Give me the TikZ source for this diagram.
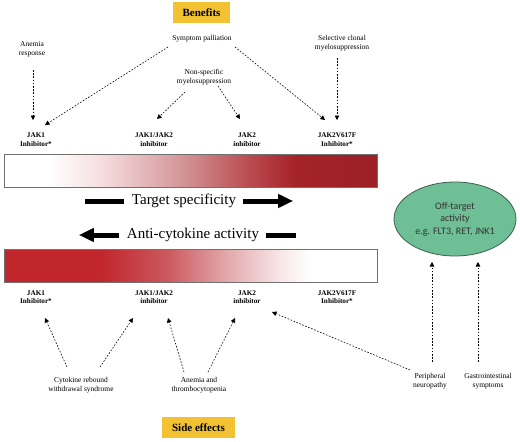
\documentclass[tikz,border=0pt]{standalone}
\usepackage{fontspec}
\setmainfont{Liberation Serif}
\newfontfamily\ellfont{Carlito}
\usetikzlibrary{arrows.meta,shapes.geometric,calc}
\definecolor{gold}{HTML}{F2C232}
\definecolor{ellgreen}{HTML}{6EBE96}
\definecolor{ellborder}{HTML}{3E5F4E}
\definecolor{barborder}{HTML}{707070}
\definecolor{tA}{HTML}{F6DEE0}
\definecolor{tB}{HTML}{D39497}
\definecolor{tC}{HTML}{B94A4F}
\definecolor{tD}{HTML}{A52329}
\definecolor{tE}{HTML}{9C2026}
\definecolor{bA}{HTML}{C1262C}
\definecolor{bB}{HTML}{CB5A5F}
\definecolor{bC}{HTML}{E3AAAD}
\definecolor{bD}{HTML}{F7E6E7}
\pgfdeclarehorizontalshading{topgrad}{100bp}{color(0bp)=(white); color(31bp)=(white); color(38bp)=(tA); color(49bp)=(tB); color(58bp)=(tC); color(64bp)=(tD); color(75bp)=(tE); color(100bp)=(tE)}
\pgfdeclarehorizontalshading{botgrad}{100bp}{color(0bp)=(bA); color(38bp)=(bA); color(47bp)=(bB); color(55bp)=(bC); color(62bp)=(bD); color(66bp)=(white); color(100bp)=(white)}
\tikzset{
  small/.style={font=\fontsize{7.5}{9}\selectfont, align=center, inner sep=0pt},
  jak/.style={font=\fontsize{7.2}{8.6}\selectfont\bfseries, align=center, inner sep=0pt},
  darr/.style={dash pattern=on 1.6pt off 1.6pt, line width=0.6pt, -{Triangle[length=4.5pt,width=4.5pt]}},
  head/.style={fill=gold, font=\fontsize{11}{13}\selectfont\bfseries, inner sep=0pt},
  big/.style={font=\fontsize{15}{17}\selectfont, inner sep=0pt},
  thick bar/.style={line width=5pt},
  bar/.style={draw=barborder, line width=0.8pt, minimum width=373pt, minimum height=33pt, inner sep=0pt}
}
\begin{document}
\begin{tikzpicture}[x=1pt,y=-1pt]
\useasboundingbox (0,0) rectangle (520,442);
% headers
\node[head, minimum width=57pt, minimum height=21pt] (ben) at (201.5,12.5) {Benefits};
\node[head, minimum width=73pt, minimum height=21pt] (side) at (198.5,427.5) {Side effects};
% benefit labels
\node[small] (anemia) at (32,49) {Anemia\\response};
\node[small] (sym) at (202,39) {Symptom palliation};
\node[small] (sel) at (342,43.5) {Selective clonal\\myelosuppression};
\node[small] (nonspec) at (204,77.5) {Non-specific\\myelosuppression};
% upper inhibitor labels
\node[jak] (jak1t) at (36,139.5) {JAK1\\Inhibitor*};
\node[jak] (jak12t) at (154,139.5) {JAK1/JAK2\\inhibitor};
\node[jak] (jak2t) at (247,139.5) {JAK2\\inhibitor};
\node[jak] (jakvt) at (337,139.5) {JAK2V617F\\Inhibitor*};
% arrows benefits
\draw[darr] ($(anemia)+(1,21)$) -- ($(jak1t)+(-3,-19.5)$);
\draw[darr] ($(sym)+(-34,8)$) -- ($(jak1t)+(9,-14.5)$);
\draw[darr] ($(sym)+(33,8)$) -- ($(jakvt)+(-12,-19.5)$);
\draw[darr] ($(sel)+(-5,14.5)$) -- ($(jakvt)+(0,-19.5)$);
\draw[darr] ($(nonspec)+(-19,14.5)$) -- ($(jak12t)+(3,-20.5)$);
\draw[darr] ($(nonspec)+(14,8.5)$) -- ($(jak2t)+(-7,-20.5)$);
% bars
\node[bar, shading=topgrad] (topbar) at (190.5,170.5) {};
\node[bar, shading=botgrad] (botbar) at (190.5,266) {};
% target specificity
\node[big] (ts) at (184,201) {Target specificity};
\draw[thick bar] ($(ts.west)+(-8,0)$) -- ++(-39,0);
\draw[thick bar, -{Triangle[length=15pt,width=13pt]}] ($(ts.east)+(7,0)$) -- ++(50,0);
% anti-cytokine
\node[big] (ac) at (193,235) {Anti-cytokine activity};
\draw[thick bar, -{Triangle[length=15pt,width=13pt]}] ($(ac.west)+(-8,0)$) -- ++(-40,0);
\draw[thick bar] ($(ac.east)+(7,0)$) -- ++(30,0);
% lower inhibitor labels
\node[jak] (jak1b) at (36,297) {JAK1\\Inhibitor*};
\node[jak] (jak12b) at (154,297) {JAK1/JAK2\\inhibitor};
\node[jak] (jak2b) at (247,297) {JAK2\\inhibitor};
\node[jak] (jakvb) at (337,297) {JAK2V617F\\Inhibitor*};
% side effect labels
\node[small] (cyto) at (81,385.5) {Cytokine rebound\\withdrawal syndrome};
\node[small] (at) at (199,385.5) {Anemia and\\thrombocytopenia};
\node[small] (per) at (430,381.5) {Peripheral\\neuropathy};
\node[small] (gas) at (488,381.5) {Gastrointestinal\\symptoms};
% off-target ellipse
\node[ellipse, fill=ellgreen, draw=ellborder, line width=0.8pt, minimum width=122pt, minimum height=74pt, inner sep=0pt, align=center, text=black!80, font=\ellfont\fontsize{10}{12.5}\selectfont] (off) at (455,219) {Off-target\\activity\\e.g. FLT3, RET, JNK1};
% arrows side effects
\draw[darr] ($(cyto)+(-14,-18.5)$) -- ($(jak1b)+(9,21)$);
\draw[darr] ($(cyto)+(19,-18.5)$) -- ($(jak12b)+(-21,21)$);
\draw[darr] ($(at)+(-15,-13.5)$) -- ($(jak12b)+(14,21)$);
\draw[darr] ($(at)+(9,-13.5)$) -- ($(jak2b)+(-12,21)$);
\draw[darr] ($(per)+(-20,-11.5)$) -- ($(jak2b)+(25,15)$);
\draw[darr] ($(per)+(2,-19.5)$) -- ($(off)+(-23,43)$);
\draw[darr] ($(gas)+(-10,-19.5)$) -- ($(off)+(23,43)$);
\end{tikzpicture}
\end{document}
